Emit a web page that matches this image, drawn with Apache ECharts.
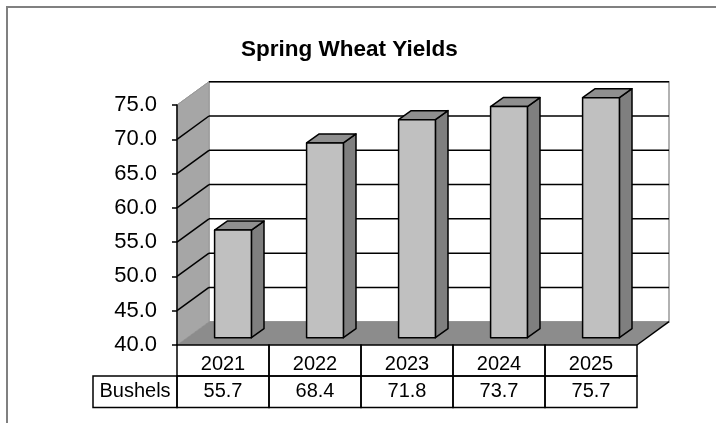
<!DOCTYPE html>
<html>
<head>
<meta charset="utf-8">
<title>Spring Wheat Yields</title>
<script src="https://cdn.jsdelivr.net/npm/echarts@6/dist/echarts.min.js"></script>
<style>
  html, body { margin: 0; padding: 0; background: #fff; }
  #chart { width: 716px; height: 423px; }
</style>
</head>
<body>
<div id="chart"></div>
<script>
// chart data
const years = ['2021', '2022', '2023', '2024', '2025'];
const bushels = [55.7, 68.4, 71.8, 73.7, 75.7];
const rowName = 'Bushels';
const yTicks = [40, 45, 50, 55, 60, 65, 70, 75];

// fake 3D box depth (px)
const DEPTH_X = 32, DEPTH_Y = 23.3;
// bars sit a bit behind the front plane
const BAR_OFF_X = 10, BAR_OFF_Y = 7.3;
const BAR_DX = 12.6, BAR_DY = 9;
const BAR_W = 0.4;
const ROW1 = 31, ROW2 = 31.6, NAME_COL = 84;
const FONT = '"Liberation Sans", Arial, sans-serif';
const Y_MIN = yTicks[0], Y_MAX = yTicks[yTicks.length - 1];

const chart = echarts.init(document.getElementById('chart'));

// side wall, back wall and floor
function renderWalls(params, api) {
  const cs = params.coordSys;
  const x0 = cs.x, x1 = cs.x + cs.width;
  const yTop = cs.y, yBot = cs.y + cs.height;
  return {
    type: 'group',
    children: [
      { type: 'rect', shape: { x: x0 + DEPTH_X, y: yTop - DEPTH_Y, width: cs.width, height: cs.height },
        style: { fill: '#fff', stroke: '#999', lineWidth: 1.5 } },
      { type: 'polygon', shape: { points: [[x0, yTop], [x0 + DEPTH_X, yTop - DEPTH_Y], [x0 + DEPTH_X, yBot - DEPTH_Y], [x0, yBot]] },
        style: { fill: '#a6a6a6', stroke: '#999', lineWidth: 1 } },
      { type: 'polygon', shape: { points: [[x0, yBot], [x1, yBot], [x1 + DEPTH_X, yBot - DEPTH_Y], [x0 + DEPTH_X, yBot - DEPTH_Y]] },
        style: { fill: '#8c8c8c' } },
      { type: 'line', shape: { x1: x1, y1: yBot, x2: x1 + DEPTH_X, y2: yBot - DEPTH_Y },
        style: { stroke: '#000', lineWidth: 1.5 } }
    ]
  };
}

// grid lines on back wall and side wall
function renderGridLines(params, api) {
  const cs = params.coordSys;
  const v = api.value(1);
  if (v <= Y_MIN) return null;
  const y = api.coord([0, v])[1];
  const x0 = cs.x, x1 = cs.x + cs.width;
  const isTop = v === Y_MAX;
  return {
    type: 'group',
    children: [
      { type: 'line', shape: { x1: x0 + DEPTH_X, y1: y - DEPTH_Y, x2: x1 + DEPTH_X, y2: y - DEPTH_Y },
        style: { stroke: '#000', lineWidth: 1.5 } },
      { type: 'line', shape: { x1: x0, y1: y, x2: x0 + DEPTH_X, y2: y - DEPTH_Y },
        style: { stroke: isTop ? '#999' : '#000', lineWidth: isTop ? 1 : 1.5 } }
    ]
  };
}

function renderBar(params, api) {
  const i = api.value(0);
  // bars are cut off at the axis max, like the original
  const top = api.coord([i, Math.min(api.value(1), Y_MAX)]);
  const base = api.coord([i, Y_MIN]);
  const bw = api.size([1, 0])[0] * BAR_W;
  const xl = top[0] - bw / 2 + BAR_OFF_X, xr = xl + bw;
  const yt = top[1] - BAR_OFF_Y, yb = base[1] - BAR_OFF_Y;
  const line = { stroke: '#000', lineWidth: 1.5, lineJoin: 'round' };
  return {
    type: 'group',
    children: [
      { type: 'polygon', shape: { points: [[xr, yt], [xr + BAR_DX, yt - BAR_DY], [xr + BAR_DX, yb - BAR_DY], [xr, yb]] },
        style: Object.assign({ fill: '#7f7f7f' }, line) },
      { type: 'polygon', shape: { points: [[xl, yt], [xr, yt], [xr + BAR_DX, yt - BAR_DY], [xl + BAR_DX, yt - BAR_DY]] },
        style: Object.assign({ fill: '#8f8f8f' }, line) },
      { type: 'rect', shape: { x: xl, y: yt, width: bw, height: yb - yt },
        style: Object.assign({ fill: '#c0c0c0' }, line) }
    ]
  };
}

// data table under the chart
function renderTable(params, api) {
  const i = api.value(0);
  const base = api.coord([i, Y_MIN]);
  const w = api.size([1, 0])[0];
  const x = base[0] - w / 2, y = base[1];
  const cell = { fill: 'none', stroke: '#000', lineWidth: 1.5 };
  const txt = { fill: '#000', fontSize: 20, fontFamily: FONT, align: 'center', verticalAlign: 'middle' };
  const kids = [
    { type: 'rect', shape: { x: x, y: y, width: w, height: ROW1 }, style: cell },
    { type: 'rect', shape: { x: x, y: y + ROW1, width: w, height: ROW2 }, style: cell },
    { type: 'text', x: x + w / 2, y: y + ROW1 / 2 + 4, style: Object.assign({ text: years[i] }, txt) },
    { type: 'text', x: x + w / 2, y: y + ROW1 + ROW2 / 2, style: Object.assign({ text: bushels[i].toFixed(1) }, txt) }
  ];
  if (i === 0) {
    kids.push(
      { type: 'rect', shape: { x: x - NAME_COL, y: y + ROW1, width: NAME_COL, height: ROW2 }, style: cell },
      { type: 'text', x: x - NAME_COL / 2, y: y + ROW1 + ROW2 / 2, style: Object.assign({ text: rowName }, txt) }
    );
  }
  return { type: 'group', children: kids };
}

chart.setOption({
  animation: false,
  title: {
    text: 'Spring Wheat Yields',
    left: 236,
    top: 33,
    textStyle: { fontSize: 22.5, fontWeight: 'bold', color: '#000', fontFamily: FONT }
  },
  graphic: [{
    type: 'rect', z: -10,
    shape: { x: 7, y: 7, width: 760, height: 460 },
    style: { fill: 'none', stroke: '#808080', lineWidth: 2 }
  }],
  grid: { left: 177, right: 79, top: 105, bottom: 78 },
  xAxis: {
    type: 'category',
    data: years,
    axisLine: { show: false },
    axisTick: { show: false },
    axisLabel: { show: false },
    splitLine: { show: false }
  },
  yAxis: {
    type: 'value',
    min: Y_MIN,
    max: Y_MAX,
    interval: 5,
    z: 10,
    axisLine: { show: true, lineStyle: { color: '#000', width: 1.5 } },
    axisTick: { show: true, length: 5, lineStyle: { color: '#000', width: 1.5 } },
    axisLabel: { color: '#000', fontSize: 22, fontFamily: FONT, margin: 20, formatter: v => v.toFixed(1) },
    splitLine: { show: false }
  },
  series: [
    { type: 'custom', renderItem: renderWalls, data: [[0, Y_MIN]], clip: false, silent: true },
    { type: 'custom', renderItem: renderGridLines, data: yTicks.map(v => [0, v]), clip: false, silent: true },
    { type: 'custom', name: rowName, renderItem: renderBar, data: bushels.map((v, i) => [i, v]), clip: false },
    { type: 'custom', renderItem: renderTable, data: bushels.map((v, i) => [i, v]), clip: false, silent: true, z: 5 }
  ]
});
</script>
</body>
</html>
